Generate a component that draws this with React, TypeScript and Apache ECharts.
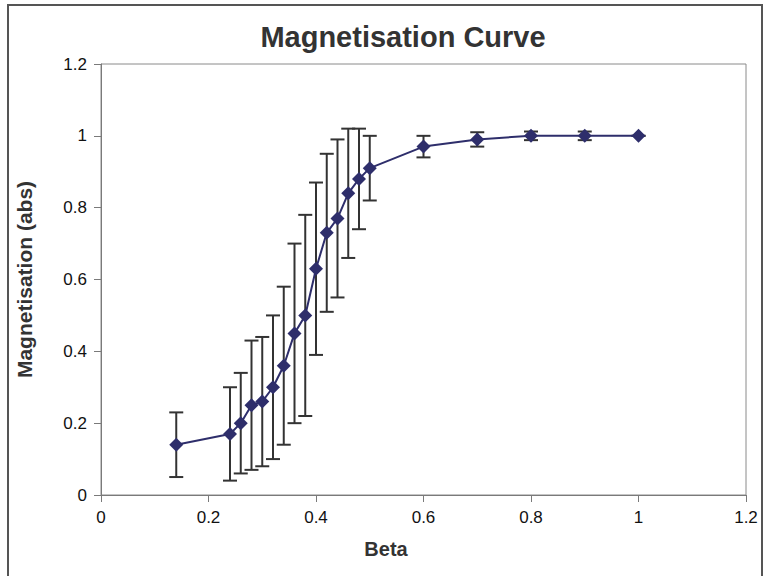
import React, { useEffect, useRef } from "react";
import * as echarts from "echarts";

const betaValues = [0.14, 0.24, 0.26, 0.28, 0.3, 0.32, 0.34, 0.36, 0.38, 0.4, 0.42, 0.44, 0.46, 0.48, 0.5, 0.6, 0.7, 0.8, 0.9, 1.0];
const magnetisation = [0.14, 0.17, 0.2, 0.25, 0.26, 0.3, 0.36, 0.45, 0.5, 0.63, 0.73, 0.77, 0.84, 0.88, 0.91, 0.97, 0.99, 1.0, 1.0, 1.0];
const errorValues = [0.09, 0.13, 0.14, 0.18, 0.18, 0.2, 0.22, 0.25, 0.28, 0.24, 0.22, 0.22, 0.18, 0.14, 0.09, 0.03, 0.02, 0.012, 0.012, 0];

const FONT = "'Liberation Sans', Arial, sans-serif";

export default function App() {
  const ref = useRef<HTMLDivElement>(null);
  useEffect(() => {
    if (!ref.current) return;
    const chart = echarts.init(ref.current, null, { renderer: "svg" });
    const points = betaValues.map((b, i) => [b, magnetisation[i]]);
    const errData = betaValues.map((b, i) => [b, magnetisation[i], errorValues[i]]);
    chart.setOption({
      animation: false,
      backgroundColor: "#ffffff",
      title: {
        text: "Magnetisation Curve",
        left: 398,
        top: 17,
        textAlign: "center",
        textStyle: { fontFamily: FONT, fontSize: 29, fontWeight: "bold", color: "#333333" },
      },
      grid: {
        left: 101,
        right: 17,
        top: 64,
        bottom: 81,
        show: true,
        borderColor: "#8a8a8a",
        borderWidth: 1,
      },
      xAxis: {
        type: "value",
        min: 0,
        max: 1.2,
        interval: 0.2,
        axisLine: { show: true, lineStyle: { color: "#7a7a7a", width: 1 } },
        axisTick: { show: true, inside: false, length: 7, lineStyle: { color: "#7a7a7a" } },
        splitLine: { show: false },
        axisLabel: {
          margin: 14,
          fontFamily: FONT,
          fontSize: 17,
          color: "#111111",
          formatter: (v: number) => String(Math.round(v * 10) / 10),
        },
      },
      yAxis: {
        type: "value",
        min: 0,
        max: 1.2,
        interval: 0.2,
        name: "Magnetisation (abs)",
        nameLocation: "middle",
        nameGap: 66,
        nameTextStyle: { fontFamily: FONT, fontSize: 21, fontWeight: "bold", color: "#333333" },
        axisLine: { show: true, lineStyle: { color: "#7a7a7a", width: 1 } },
        axisTick: { show: true, inside: false, length: 7, lineStyle: { color: "#7a7a7a" } },
        splitLine: { show: false },
        axisLabel: {
          margin: 14,
          fontFamily: FONT,
          fontSize: 17,
          color: "#111111",
          formatter: (v: number) => String(Math.round(v * 10) / 10),
        },
      },
      graphic: [
        {
          type: "rect",
          shape: { x: 8, y: 5, width: 754, height: 600 },
          style: { fill: "none", stroke: "#555555", lineWidth: 2 },
          silent: true,
        },
        {
          type: "text",
          x: 386,
          y: 549,
          style: {
            text: "Beta",
            fontFamily: FONT,
            fontSize: 20,
            fontWeight: "bold",
            fill: "#333333",
            textAlign: "center",
            textVerticalAlign: "middle",
          },
        },
      ],
      series: [
        {
          type: "custom",
          z: 1,
          data: errData,
          renderItem: (params: any, api: any) => {
            const x = api.value(0);
            const y = api.value(1);
            const e = api.value(2);
            const top = api.coord([x, y + e]);
            const bot = api.coord([x, y - e]);
            const hw = 7;
            const style = { stroke: "#333333", lineWidth: 2 };
            return {
              type: "group",
              children: [
                { type: "line", shape: { x1: top[0], y1: top[1], x2: bot[0], y2: bot[1] }, style },
                { type: "line", shape: { x1: top[0] - hw, y1: top[1], x2: top[0] + hw, y2: top[1] }, style },
                { type: "line", shape: { x1: bot[0] - hw, y1: bot[1], x2: bot[0] + hw, y2: bot[1] }, style },
              ],
            };
          },
        },
        {
          type: "line",
          z: 3,
          data: points,
          symbol: "diamond",
          symbolSize: 14,
          lineStyle: { color: "#2e2e6b", width: 2 },
          itemStyle: { color: "#2e2e6b" },
        },
      ],
    });
    return () => chart.dispose();
  }, []);
  return <div ref={ref} style={{ width: 763, height: 576, position: "absolute", left: 0, top: 0 }} />;
}
